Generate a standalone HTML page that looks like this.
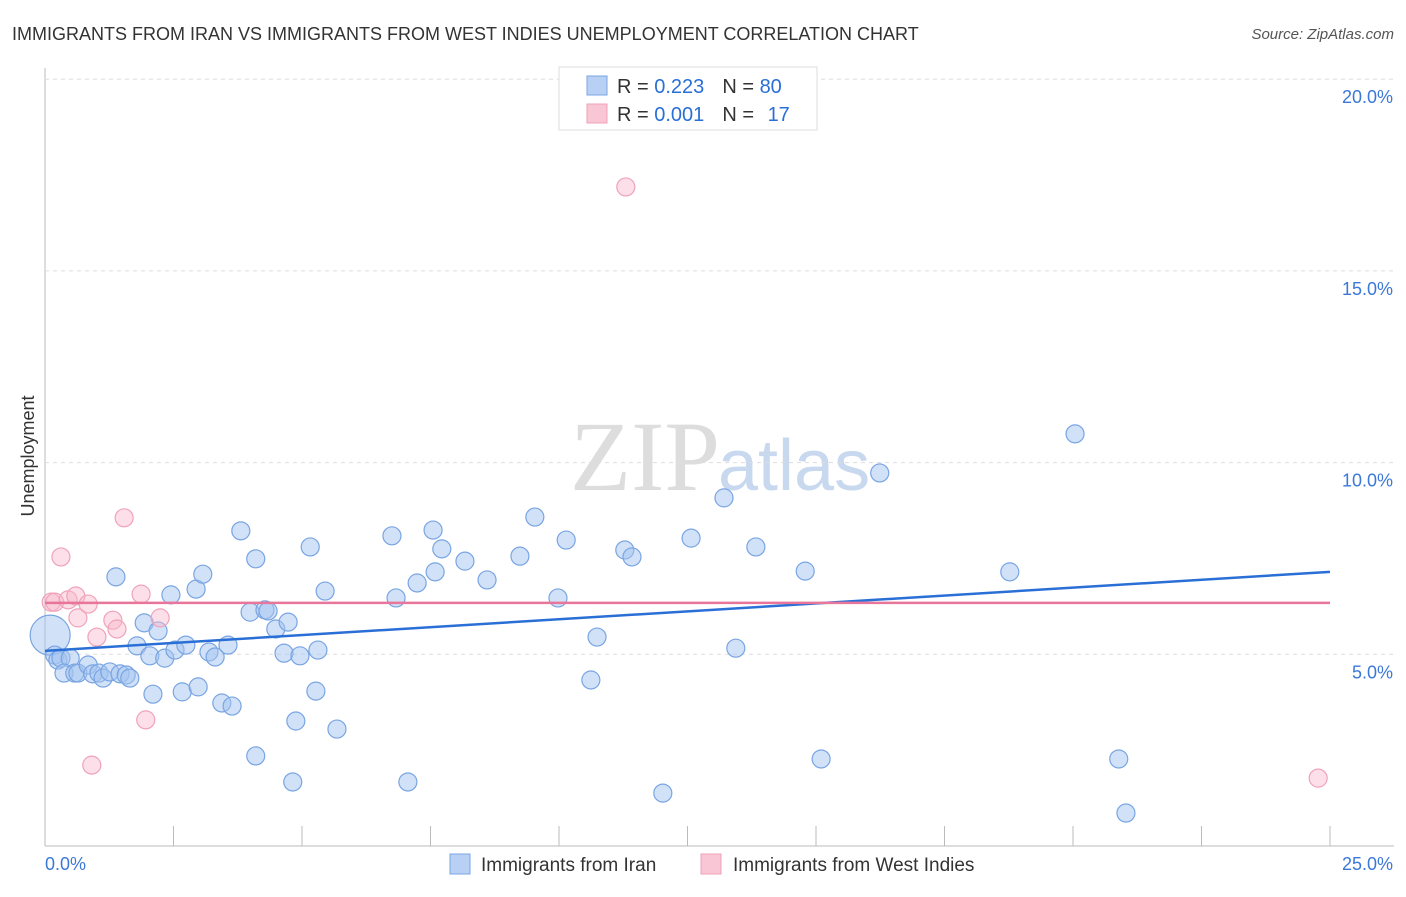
<!DOCTYPE html>
<html><head><meta charset="utf-8"><style>
body{margin:0;background:#fff;font-family:"Liberation Sans",sans-serif;}
svg text{font-family:"Liberation Sans",sans-serif;}
</style></head><body>
<svg id="c" width="1406" height="892" xmlns="http://www.w3.org/2000/svg">
<text x="12" y="40" font-size="18" fill="#333">IMMIGRANTS FROM IRAN VS IMMIGRANTS FROM WEST INDIES UNEMPLOYMENT CORRELATION CHART</text>
<text x="1394" y="39" font-size="15" fill="#555" font-style="italic" text-anchor="end">Source: ZipAtlas.com</text>
<text x="720" y="490" font-size="100" fill="#ddd" text-anchor="end" font-family="Liberation Serif" style="font-family:'Liberation Serif',serif">ZIP</text>
<text x="718" y="490" font-size="72" fill="#c8d8ee">atlas</text>
<text x="34" y="456" font-size="18" fill="#333" text-anchor="middle" transform="rotate(-90 34 456)">Unemployment</text>
<g id="grid"></g><g id="pts"></g><g id="lines"></g>
<g>
<rect x="559" y="67" width="258" height="63" fill="#fff" stroke="#ddd"/>
<rect x="587" y="76" width="20" height="19" fill="#b8d0f4" stroke="#7aa6e4"/>
<rect x="587" y="104" width="20" height="19" fill="#f9c6d6" stroke="#f0a0b8"/>
<text x="617" y="93" font-size="20" fill="#333">R = <tspan fill="#2a6fd6">0.223</tspan><tspan dx="18">N = </tspan><tspan fill="#2a6fd6">80</tspan></text>
<text x="617" y="121" font-size="20" fill="#333">R = <tspan fill="#2a6fd6">0.001</tspan><tspan dx="18">N = </tspan><tspan fill="#2a6fd6" dx="8">17</tspan></text>
</g>
<g>
<rect x="450" y="854" width="20" height="20" fill="#b8d0f4" stroke="#7aa6e4"/>
<text x="481" y="871" font-size="19" fill="#333">Immigrants from Iran</text>
<rect x="701" y="854" width="20" height="20" fill="#f9c6d6" stroke="#f0a0b8"/>
<text x="733" y="871" font-size="19" fill="#333">Immigrants from West Indies</text>
</g>
</svg>
<script>
const iranX=[0.10,0.19,0.25,0.31,0.49,0.37,0.58,0.64,0.84,0.93,1.05,1.13,1.26,1.46,1.58,1.65,1.38,1.93,2.20,1.79,2.04,2.33,2.53,2.45,2.74,2.94,3.07,2.67,2.10,2.98,3.19,3.31,3.56,3.44,3.64,3.81,4.10,3.99,4.28,4.34,4.49,4.73,4.65,4.96,5.31,5.27,4.88,5.16,5.45,4.10,4.82,5.68,6.75,6.83,7.24,7.06,7.55,7.59,7.72,8.17,8.60,9.24,9.53,9.98,10.14,10.74,10.62,11.28,11.42,12.02,12.57,13.21,13.44,13.83,14.79,15.10,16.24,18.77,20.04,20.89,21.03];
const iranY=[5.50,4.98,4.85,4.90,4.90,4.51,4.51,4.51,4.72,4.49,4.51,4.38,4.54,4.49,4.46,4.38,7.02,5.82,5.61,5.22,4.96,4.90,5.11,6.55,5.24,6.70,7.09,4.02,3.96,4.15,5.06,4.93,5.24,3.73,3.65,8.22,7.49,6.10,6.16,6.13,5.66,5.84,5.03,4.96,5.11,4.04,3.26,7.80,6.65,2.35,1.67,3.05,8.09,6.47,6.86,1.67,8.24,7.15,7.75,7.43,6.94,7.56,8.58,6.47,7.98,5.45,4.33,7.72,7.54,1.38,8.03,9.08,5.16,7.80,7.17,2.27,9.73,7.15,10.75,2.27,0.86];
const wiX=[0.12,0.19,0.31,0.45,0.60,0.64,0.84,1.01,0.91,1.32,1.40,1.54,1.87,1.96,2.24,11.30,24.77];
const wiY=[6.36,6.36,7.54,6.42,6.52,5.95,6.31,5.45,2.11,5.89,5.66,8.56,6.57,3.29,5.95,17.19,1.77];
const iranTrend=[5.09,7.15];
const wiTrend=[6.34,6.34];
const yTicks=[5,10,15,20];
const xTickLabels=["0.0%","25.0%"];
const X=v=>45+v/25*1285, Y=v=>846-v/5*191.7;
const NS="http://www.w3.org/2000/svg";
function mk(t,a,p){const e=document.createElementNS(NS,t);for(const k in a)e.setAttribute(k,a[k]);p.appendChild(e);return e;}
const g=document.getElementById('grid');
mk('line',{x1:45,y1:68,x2:45,y2:846,stroke:'#bbb'},g);
mk('line',{x1:45,y1:846,x2:1394,y2:846,stroke:'#bbb'},g);
yTicks.forEach(t=>{
 const l=mk('line',{x1:45,y1:Y(t),x2:1394,y2:Y(t),stroke:'#ddd','stroke-dasharray':'4,4'},g);
 
 
 const tx=mk('text',{x:1393,y:Y(t)+24,'font-size':18,fill:'#3b78d8','text-anchor':'end'},g);
 tx.textContent=t.toFixed(1)+'%';
 
 
});
for(let i=0;i<=10;i++){const x=X(i*2.5);const l=mk('line',{x1:x,y1:826,x2:x,y2:846,stroke:'#bbb'},g);
 
 }
const t0=mk('text',{x:45,y:870,'font-size':18,fill:'#3b78d8'},g);t0.textContent=xTickLabels[0];


const t1=mk('text',{x:1393,y:870,'font-size':18,fill:'#3b78d8','text-anchor':'end'},g);t1.textContent=xTickLabels[1];


const p=document.getElementById('pts');
iranX.forEach((x,i)=>{const c=mk('circle',{cx:X(x),cy:Y(iranY[i]),r:i===0?20:9,fill:'rgba(164,196,240,0.5)',stroke:'#79a5e3','stroke-width':1.2},p);
 
 });
wiX.forEach((x,i)=>{const c=mk('circle',{cx:X(x),cy:Y(wiY[i]),r:9,fill:'rgba(248,184,204,0.45)',stroke:'#f0a2ba','stroke-width':1.2},p);
 
 });
const L=document.getElementById('lines');
const a=mk('line',{x1:X(0),y1:Y(iranTrend[0]),x2:X(25),y2:Y(iranTrend[1]),stroke:'#2a6fd6','stroke-width':2.5},L);


const b=mk('line',{x1:X(0),y1:Y(wiTrend[0]),x2:X(25),y2:Y(wiTrend[1]),stroke:'#e8759a','stroke-width':2.5},L);


</script>
</body></html>
